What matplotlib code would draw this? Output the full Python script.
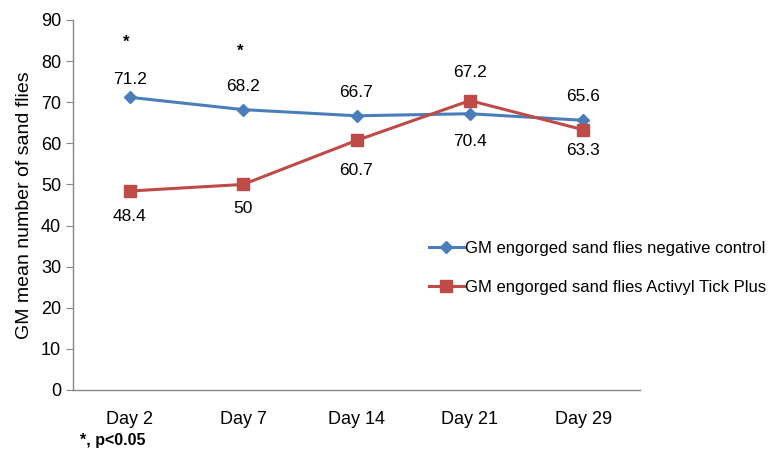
import matplotlib.pyplot as plt

plt.rcParams["font.family"] = ["Liberation Sans", "DejaVu Sans"]

days = ["Day 2", "Day 7", "Day 14", "Day 21", "Day 29"]
control = [71.2, 68.2, 66.7, 67.2, 65.6]
activyl = [48.4, 50, 60.7, 70.4, 63.3]
control_labels = ["71.2", "68.2", "66.7", "67.2", "65.6"]
activyl_labels = ["48.4", "50", "60.7", "70.4", "63.3"]
star_values = [84.5, 82.5]  # significance markers over Day 2 and Day 7

BLUE = "#4a7ebb"
RED = "#be4b48"
GRID = "#868686"

# label offsets in points (up for control, down for activyl)
up_off = [13, 17, 17, 30, 17]
down_off = [18, 17, 21.5, 20, 15]


def main():
    fig = plt.figure(figsize=(7.71, 4.53), dpi=100)
    ax = fig.add_axes([73 / 771, 1 - 390 / 453, 567 / 771, 370 / 453])

    x = list(range(len(days)))
    ax.plot(x, control, color=BLUE, lw=2.2, marker="D", ms=6.5,
            mec=BLUE, mfc=BLUE, label="GM engorged sand flies negative control", zorder=3)
    ax.plot(x, activyl, color=RED, lw=2.2, marker="s", ms=8.5,
            mec=RED, mfc=RED, label="GM engorged sand flies Activyl Tick Plus", zorder=3)

    for i, (v, s) in enumerate(zip(control, control_labels)):
        ax.annotate(s, (i, v), xytext=(0, up_off[i]), textcoords="offset points",
                    ha="center", va="center", fontsize=12.5)
    for i, (v, s) in enumerate(zip(activyl, activyl_labels)):
        # Day 21: red label sits below the blue line
        anchor = control[i] if i == 3 else v
        ax.annotate(s, (i, anchor), xytext=(0, -down_off[i]), textcoords="offset points",
                    ha="center", va="center", fontsize=12.5)
    for i, v in enumerate(star_values):
        ax.text(i - 0.03, v, "*", ha="center", va="center", fontsize=12, fontweight="bold")

    ax.set_xlim(-0.5, len(days) - 0.5)
    ax.set_ylim(0, 90)
    ax.set_yticks(range(0, 91, 10))
    ax.set_xticks(x)
    ax.set_xticklabels(days, fontsize=13)
    ax.tick_params(axis="y", labelsize=13, length=5, color=GRID, direction="out")
    ax.tick_params(axis="x", length=0, pad=15)
    for side in ("top", "right"):
        ax.spines[side].set_visible(False)
    for side in ("left", "bottom"):
        ax.spines[side].set_color(GRID)
        ax.spines[side].set_linewidth(1)
    ax.set_ylabel("GM mean number of sand flies", fontsize=14, labelpad=6)

    fig.legend(loc="upper left", bbox_to_anchor=(422 / 771, 1 - 234 / 453), frameon=False,
               fontsize=12, handlelength=2.1, handletextpad=0.1, labelspacing=1.45,
               borderaxespad=0)

    fig.text(80 / 771, 1 - 440 / 453, "*, p<0.05", fontsize=11.5, fontweight="bold",
             ha="left", va="center")

    fig.savefig("out.png", dpi=100, facecolor="white")


if __name__ == "__main__":
    main()
